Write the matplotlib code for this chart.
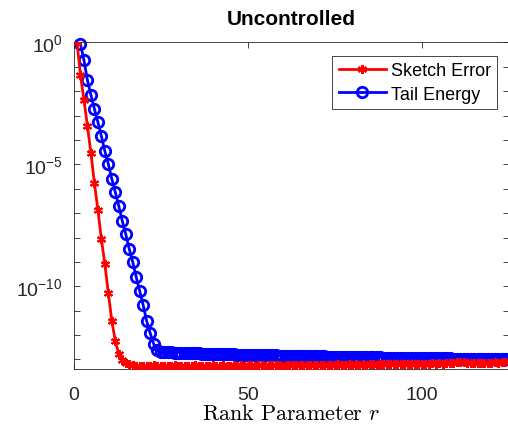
import numpy as np
import matplotlib as mpl
mpl.use('Agg')
import matplotlib.pyplot as plt
from matplotlib.ticker import FixedLocator, NullLocator

mpl.rcParams['font.family'] = ['Liberation Sans', 'DejaVu Sans']
mpl.rcParams['mathtext.fontset'] = 'custom'
mpl.rcParams['mathtext.rm'] = 'Liberation Sans'
mpl.rcParams['mathtext.it'] = 'Liberation Sans:italic'

# log10 of the values
rank_sketch = np.arange(1, 126)
sketch_err_exp = [
    0.0, -1.34, -2.36, -3.43, -4.54, -5.77, -6.87, -8.06, -9.09, -10.28,
    -11.42, -12.24, -12.77, -13.04, -13.14, -13.20, -13.24, -13.26, -13.25, -13.27,
    -13.25, -13.26, -13.24, -13.27, -13.26, -13.25, -13.27, -13.26, -13.24, -13.26,
    -13.25, -13.27, -13.25, -13.26, -13.24, -13.26, -13.25, -13.27, -13.25, -13.24,
    -13.26, -13.25, -13.24, -13.26, -13.25, -13.23, -13.25, -13.24, -13.26, -13.24,
    -13.23, -13.25, -13.24, -13.23, -13.25, -13.24, -13.22, -13.24, -13.23, -13.25,
    -13.23, -13.22, -13.24, -13.23, -13.22, -13.24, -13.22, -13.21, -13.23, -13.22,
    -13.21, -13.23, -13.22, -13.21, -13.22, -13.20, -13.22, -13.21, -13.20, -13.22,
    -13.20, -13.21, -13.19, -13.21, -13.20, -13.19, -13.21, -13.20, -13.18, -13.20,
    -13.19, -13.18, -13.20, -13.18, -13.19, -13.17, -13.19, -13.18, -13.17, -13.18,
    -13.17, -13.18, -13.16, -13.17, -13.16, -13.17, -13.15, -13.16, -13.13, -13.11,
    -13.11, -13.12, -13.14, -13.15, -13.14, -13.15, -13.14, -13.13, -13.14, -13.13,
    -13.12, -13.13, -13.12, -13.11, -13.12,
]

rank_tail = np.arange(2, 126)
tail_energy_exp = [
    -0.07, -0.73, -1.55, -2.16, -2.73, -3.27, -3.84, -4.46, -4.99, -5.60,
    -6.14, -6.71, -7.32, -7.86, -8.47, -9.00, -9.62, -10.19, -10.77, -11.42,
    -11.91, -12.36, -12.61, -12.69, -12.70, -12.71, -12.71, -12.72, -12.72, -12.73,
    -12.73, -12.74, -12.74, -12.75, -12.75, -12.76, -12.76, -12.76, -12.77, -12.77,
    -12.78, -12.78, -12.78, -12.79, -12.79, -12.80, -12.80, -12.80, -12.81, -12.81,
    -12.81, -12.82, -12.82, -12.82, -12.83, -12.83, -12.83, -12.84, -12.84, -12.84,
    -12.85, -12.85, -12.85, -12.85, -12.86, -12.86, -12.86, -12.87, -12.87, -12.87,
    -12.87, -12.88, -12.88, -12.88, -12.88, -12.89, -12.89, -12.89, -12.89, -12.90,
    -12.90, -12.90, -12.90, -12.91, -12.91, -12.91, -12.91, -12.92, -12.92, -12.92,
    -12.92, -12.92, -12.93, -12.93, -12.93, -12.93, -12.93, -12.94, -12.94, -12.94,
    -12.94, -12.94, -12.95, -12.95, -12.95, -12.95, -12.95, -12.96, -12.96, -12.96,
    -12.96, -12.96, -12.96, -12.97, -12.97, -12.97, -12.97, -12.97, -12.97, -12.98,
    -12.98, -12.98, -12.98, -12.98,
]

y_ticks = [0, -1, -2, -3, -4, -5, -6, -7, -8, -9, -10, -11, -12, -13]
y_labels = [r'$\mathregular{10^{0}}$', '', '', '', '', r'$\mathregular{10^{-5}}$',
            '', '', '', '', r'$\mathregular{10^{-10}}$', '', '', '']
x_ticks = [0, 50, 100]

fig = plt.figure(figsize=(5.08, 4.27), dpi=100)
ax = fig.add_axes([0.1447, 0.1335, 0.857, 0.765])

ax.semilogy(rank_sketch, 10.0 ** np.array(sketch_err_exp), color='red', lw=2,
            marker=(6, 2, 0), ms=6.5, mew=1.5, label='Sketch Error', zorder=3)
ax.semilogy(rank_tail, 10.0 ** np.array(tail_energy_exp), color='blue', lw=2,
            marker='o', ms=7.5, mew=2, mfc='none', label='Tail Energy', zorder=2,
            clip_on=False)

ax.set_xlim(0, 125)
ax.set_ylim(10 ** -13.39, 1.0)
ax.xaxis.set_major_locator(FixedLocator(x_ticks))
ax.xaxis.set_minor_locator(NullLocator())
ax.yaxis.set_major_locator(FixedLocator([10.0 ** e for e in y_ticks]))
ax.yaxis.set_minor_locator(NullLocator())
ax.set_yticklabels(y_labels)
ax.tick_params(direction='in', length=4, width=0.6, colors='#262626',
               labelsize=14, top=True, right=True, pad=8)
ax.tick_params(axis='x', pad=12)
for sp in ax.spines.values():
    sp.set_color('#262626')
    sp.set_linewidth(0.6)

ax.set_title('Uncontrolled', fontsize=15, fontweight='bold', pad=13)
xl = ax.set_xlabel(r'$\mathrm{Rank\ Parameter}\ r$', fontsize=16, labelpad=0)
xl.set_math_fontfamily('cm')

leg = ax.legend(loc='upper right', bbox_to_anchor=(0.9736, 0.958), fontsize=13,
                numpoints=1, fancybox=False, framealpha=1, edgecolor='#262626',
                handlelength=2.6, handletextpad=0.3, borderpad=0.35, labelspacing=0.35,
                borderaxespad=0)
leg.get_frame().set_linewidth(0.6)

fig.savefig('out.png', dpi=100)
